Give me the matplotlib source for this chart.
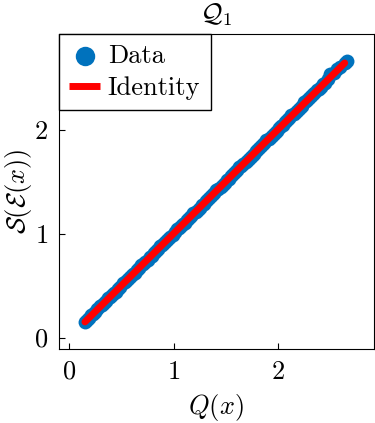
import numpy as np
import matplotlib.pyplot as plt

plt.rcParams['font.family'] = 'serif'
plt.rcParams['font.serif'] = ['cmr10']
plt.rcParams['mathtext.fontset'] = 'cm'
plt.rcParams['axes.formatter.use_mathtext'] = True

# valores
q_x = [0.15, 0.17, 0.19, 0.21, 0.23, 0.25, 0.27, 0.29, 0.31, 0.33,
       0.35, 0.37, 0.39, 0.41, 0.43, 0.45, 0.47, 0.49, 0.51, 0.53,
       0.55, 0.57, 0.59, 0.61, 0.63, 0.65, 0.67, 0.69, 0.71, 0.73,
       0.75, 0.77, 0.79, 0.81, 0.83, 0.85, 0.87, 0.89, 0.91, 0.93,
       0.95, 0.97, 0.99, 1.01, 1.03, 1.05, 1.07, 1.09, 1.11, 1.13,
       1.15, 1.17, 1.19, 1.21, 1.23, 1.25, 1.27, 1.29, 1.31, 1.33,
       1.35, 1.37, 1.39, 1.41, 1.43, 1.45, 1.47, 1.49, 1.51, 1.53,
       1.55, 1.57, 1.59, 1.61, 1.63, 1.65, 1.67, 1.69, 1.71, 1.73,
       1.75, 1.77, 1.79, 1.81, 1.83, 1.85, 1.87, 1.89, 1.91, 1.93,
       1.95, 1.97, 1.99, 2.01, 2.03, 2.05, 2.07, 2.09, 2.11, 2.13,
       2.15, 2.17, 2.19, 2.21, 2.23, 2.25, 2.27, 2.29, 2.31, 2.33,
       2.35, 2.37, 2.39, 2.41, 2.43, 2.45, 2.48, 2.50, 2.54, 2.57,
       2.60, 2.64, 2.66]
s_x = [0.15, 0.17, 0.19, 0.22, 0.23, 0.25, 0.27, 0.30, 0.31, 0.33,
       0.35, 0.38, 0.39, 0.41, 0.43, 0.44, 0.47, 0.49, 0.52, 0.53,
       0.55, 0.57, 0.59, 0.61, 0.62, 0.65, 0.67, 0.70, 0.71, 0.73,
       0.75, 0.77, 0.78, 0.81, 0.83, 0.85, 0.88, 0.89, 0.91, 0.93,
       0.95, 0.97, 0.99, 1.01, 1.04, 1.05, 1.07, 1.09, 1.10, 1.13,
       1.15, 1.17, 1.20, 1.21, 1.23, 1.25, 1.27, 1.28, 1.31, 1.33,
       1.35, 1.37, 1.39, 1.42, 1.43, 1.45, 1.47, 1.49, 1.51, 1.52,
       1.55, 1.57, 1.59, 1.61, 1.64, 1.65, 1.67, 1.69, 1.71, 1.73,
       1.75, 1.76, 1.79, 1.81, 1.83, 1.85, 1.87, 1.90, 1.91, 1.93,
       1.95, 1.97, 1.99, 2.01, 2.03, 2.04, 2.07, 2.09, 2.11, 2.14,
       2.15, 2.17, 2.19, 2.21, 2.23, 2.26, 2.27, 2.29, 2.31, 2.33,
       2.35, 2.38, 2.39, 2.41, 2.44, 2.45, 2.49, 2.53, 2.54, 2.58,
       2.60, 2.64, 2.66]
ident = [0.15, 2.64]

fig = plt.figure(figsize=(3.75, 4.23), dpi=100)
ax = fig.add_axes([0.157, 0.175, 0.84, 0.745])

ax.scatter(q_x, s_x, s=100, color='#0072BD', label='Data', zorder=2,
           linewidths=0)
ax.plot(ident, ident, color='#FF0000', lw=5, label='Identity', zorder=3,
        solid_capstyle='round')

ax.set_xlim(-0.1, 2.92)
ax.set_ylim(-0.11, 2.92)
ax.set_xticks([0, 1, 2])
ax.set_yticks([0, 1, 2])
ax.tick_params(direction='in', labelsize=19, length=4, width=0.8, pad=8)
ax.set_xlabel(r'$Q(x)$', fontsize=19, labelpad=6)
ax.set_ylabel(r'$\mathcal{S}(\mathcal{E}(x))$', fontsize=19, labelpad=0)
ax.set_title(r'$\mathcal{Q}_1$', fontsize=19, pad=9)

leg = ax.legend(loc='upper left', fontsize=19, fancybox=False, framealpha=1,
                edgecolor='black', borderaxespad=0, handlelength=1.15,
                handletextpad=0.3, borderpad=0.4, labelspacing=0.3,
                markerscale=1.4)
leg.get_frame().set_linewidth(1.0)
leg.get_lines()[0].set_solid_capstyle('butt')

fig.savefig('out.png', dpi=100)
